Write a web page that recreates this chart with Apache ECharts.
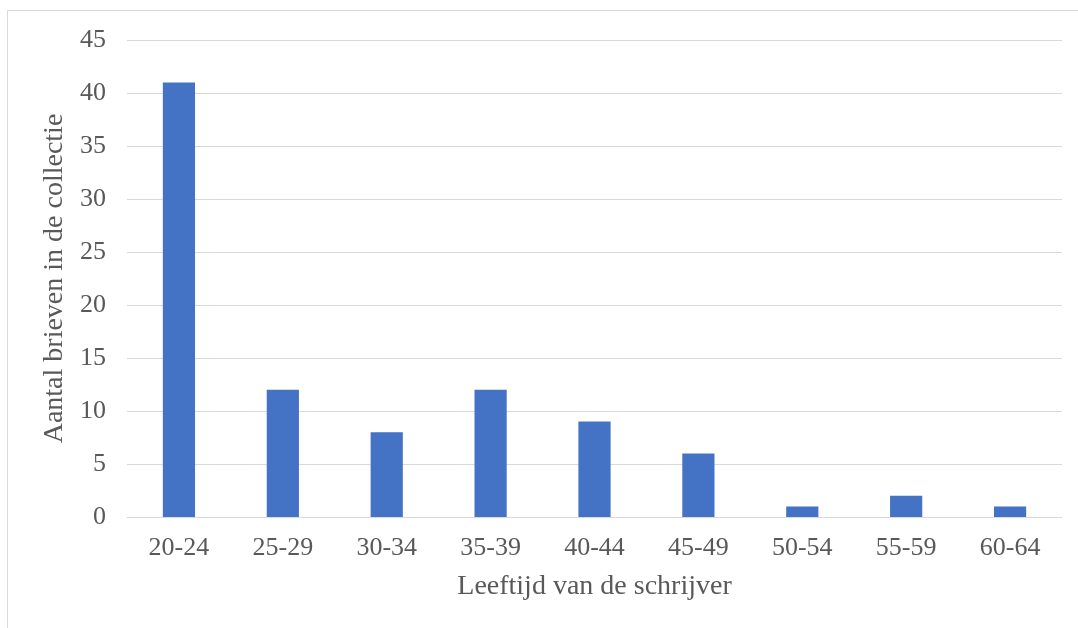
<!DOCTYPE html>
<html>
<head>
<meta charset="utf-8">
<script src="https://cdn.jsdelivr.net/npm/echarts@6/dist/echarts.min.js"></script>
<style>
  html, body { margin: 0; padding: 0; background: #fff; }
  #chart { width: 1078px; height: 628px; }
</style>
</head>
<body>
<div id="chart"></div>
<script>
// Leeftijdsgroepen van de schrijver
const categories = ['20-24', '25-29', '30-34', '35-39', '40-44', '45-49', '50-54', '55-59', '60-64'];
// Aantal brieven per leeftijdsgroep
const letterCounts = [41, 12, 8, 12, 9, 6, 1, 2, 1];
// Waarden op de verticale as
const yTicks = [0, 5, 10, 15, 20, 25, 30, 35, 40, 45];

const FONT = '"Liberation Serif", "DejaVu Serif", serif';
const TEXT = '#595959';

const chart = echarts.init(document.getElementById('chart'), null, { renderer: 'canvas' });
chart.setOption({
  animation: false,
  backgroundColor: '#ffffff',
  graphic: [{
    type: 'rect',
    shape: { x: 7.5, y: 10.5, width: 1200, height: 800 },
    style: { fill: 'none', stroke: '#d9d9d9', lineWidth: 1 },
    silent: true
  }],
  grid: { left: 127, right: 16, top: 40, bottom: 111 },
  xAxis: {
    type: 'category',
    data: categories,
    name: 'Leeftijd van de schrijver',
    nameLocation: 'middle',
    nameGap: 56,
    nameTextStyle: { fontFamily: FONT, fontSize: 28, color: TEXT },
    axisLine: { lineStyle: { color: '#d9d9d9', width: 1 } },
    axisTick: { show: false },
    axisLabel: { fontFamily: FONT, fontSize: 26, color: TEXT, margin: 18 }
  },
  yAxis: {
    type: 'value',
    min: yTicks[0],
    max: yTicks[yTicks.length - 1],
    interval: yTicks[1] - yTicks[0],
    name: 'Aantal brieven in de collectie',
    nameLocation: 'middle',
    nameGap: 55,
    nameTextStyle: { fontFamily: FONT, fontSize: 28, color: TEXT },
    axisLine: { show: false },
    axisTick: { show: false },
    splitLine: { lineStyle: { color: '#d9d9d9', width: 1 } },
    axisLabel: { fontFamily: FONT, fontSize: 26, color: TEXT, margin: 21 }
  },
  series: [{
    type: 'bar',
    data: letterCounts,
    barWidth: '31%',
    itemStyle: { color: '#4472C4' }
  }]
});
</script>
</body>
</html>
